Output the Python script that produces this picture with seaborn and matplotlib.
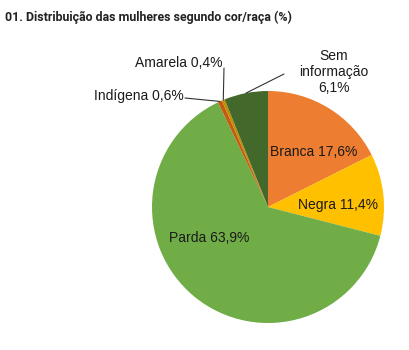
import matplotlib
matplotlib.use("Agg")
import matplotlib.pyplot as plt
import seaborn as sns
import numpy as np

# data
categories = ["Branca", "Negra", "Parda", "Indígena", "Amarela", "Sem informação"]
values = [17.6, 11.4, 63.9, 0.6, 0.4, 6.1]
colors = ["#ED7D31", "#FFC000", "#70AD47", "#C55A11", "#BF8F00", "#43682B"]
label_texts = ["Branca 17,6%", "Negra 11,4%", "Parda 63,9%",
               "Indígena 0,6%", "Amarela 0,4%", "Sem\ninformação\n6,1%"]

sns.set_theme(style="white")
plt.rcParams["font.family"] = ["Liberation Sans", "DejaVu Sans"]

fig = plt.figure(figsize=(4.1, 3.5), dpi=100)
ax = fig.add_axes([0, 0, 1, 1])
R = 116.0

wedges, _ = ax.pie(values, colors=colors, startangle=90, counterclock=False,
                   radius=1.0, center=(0, 0), frame=True,
                   wedgeprops=dict(linewidth=0))
ax.set_xlim(-268 / R, (410 - 268) / R)
ax.set_ylim(-(350 - 207) / R, 207 / R)
ax.set_aspect("equal")
ax.axis("off")


def px(x, y):
    # pixel position (from top-left) -> data coords
    return (x - 268) / R, (207 - y) / R


def mid_point(w, r=1.0):
    a = np.deg2rad((w.theta1 + w.theta2) / 2)
    return r * np.cos(a), r * np.sin(a)


fs = 10
txt = "#1a1a1a"
# inside labels
ax.text(*px(314, 152), label_texts[0], ha="center", va="center", fontsize=fs, color=txt)
ax.text(*px(338, 205), label_texts[1], ha="center", va="center", fontsize=fs, color=txt)
ax.text(*px(209, 238), label_texts[2], ha="center", va="center", fontsize=fs, color=txt)

line_kw = dict(arrowstyle="-", color="#333333", lw=0.8, shrinkA=0, shrinkB=0)

# Sem informação
ax.text(*px(334, 72), label_texts[5], ha="center", va="center", fontsize=fs,
        color=txt, linespacing=1.15)
ax.annotate("", xy=mid_point(wedges[5]), xytext=px(284, 74), arrowprops=line_kw)

# Amarela
ax.text(*px(179, 63), label_texts[4], ha="center", va="center", fontsize=fs, color=txt)
ax.annotate("", xy=mid_point(wedges[4]), xytext=px(224, 68), arrowprops=line_kw)

# Indígena
ax.text(*px(139, 96), label_texts[3], ha="center", va="center", fontsize=fs, color=txt)
ax.annotate("", xy=mid_point(wedges[3]), xytext=px(185, 98), arrowprops=line_kw)

fig.text(5 / 410, 1 - 17.5 / 350, "01. Distribuição das mulheres segundo cor/raça (%)",
         ha="left", va="center", fontsize=8.9, fontweight="bold",
         family=["Roboto", "DejaVu Sans"], color="#222222")

fig.savefig("out.png", dpi=100, facecolor="white")
